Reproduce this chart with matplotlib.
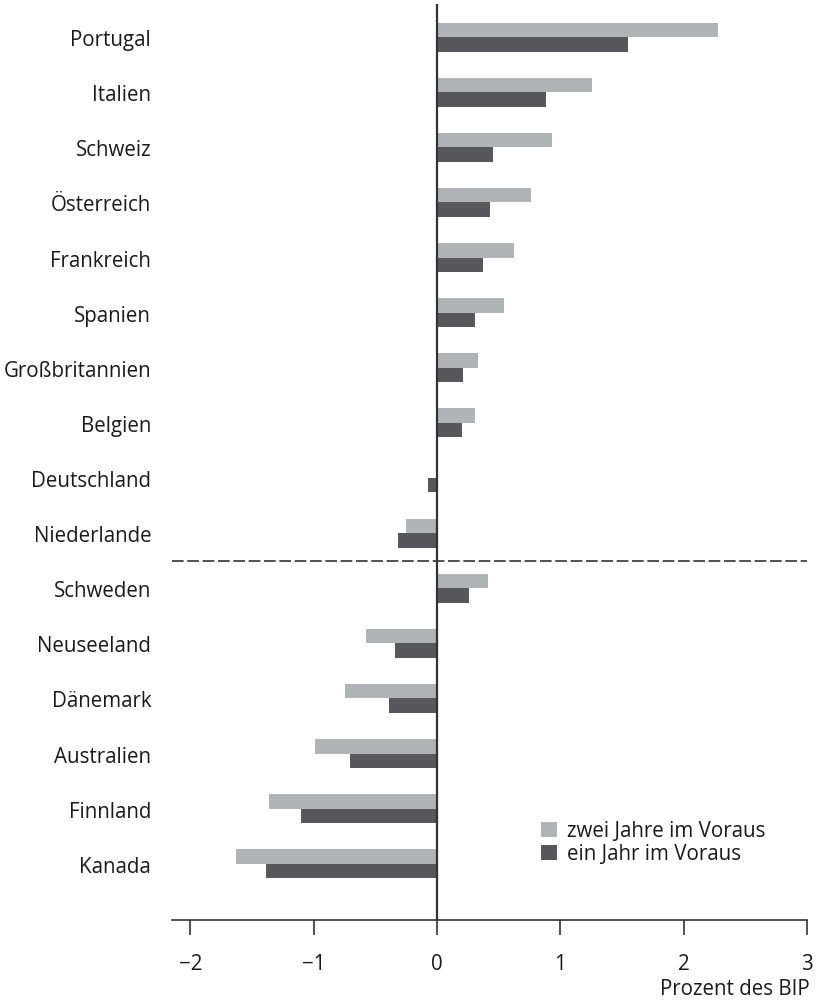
import matplotlib.pyplot as plt
import numpy as np

plt.rcParams['font.family'] = ['Open Sans', 'DejaVu Sans']

# Daten (Prozent des BIP)
laender = ['Portugal', 'Italien', 'Schweiz', 'Österreich', 'Frankreich', 'Spanien',
           'Großbritannien', 'Belgien', 'Deutschland', 'Niederlande', 'Schweden',
           'Neuseeland', 'Dänemark', 'Australien', 'Finnland', 'Kanada']
zwei_jahre = [2.28, 1.26, 0.93, 0.76, 0.62, 0.54, 0.33, 0.31, 0.0, -0.25, 0.41,
              -0.58, -0.75, -0.99, -1.36, -1.63]
ein_jahr = [1.55, 0.88, 0.45, 0.43, 0.37, 0.31, 0.21, 0.20, -0.07, -0.32, 0.26,
            -0.34, -0.39, -0.71, -1.10, -1.39]
x_ticks = [-2, -1, 0, 1, 2, 3]
x_ticklabels = ['\u22122', '\u22121', '0', '1', '2', '3']

hell = '#b2b3b5'
dunkel = '#58585a'
textfarbe = '#1a1a1a'
fs = 14.8

fig = plt.figure(figsize=(8.17, 10.04), dpi=100)
ax = fig.add_axes([172 / 817, 1 - 921 / 1004, (807 - 172) / 817, (921 - 5) / 1004])

y = np.arange(len(laender))
h = 0.263
ax.barh(y - h / 2, zwei_jahre, height=h, color=hell, label='zwei Jahre im Voraus')
ax.barh(y + h / 2, ein_jahr, height=h, color=dunkel, label='ein Jahr im Voraus')

ax.axvline(0, color='#333333', linewidth=1.6, zorder=3)
ax.axhline(9.5, color='#333333', linewidth=1.2, dashes=(7, 2.2), zorder=3)

ax.set_xlim(-2.15, 3.0)
ax.set_ylim(16.02, -0.6)

ax.set_yticks(y)
ax.set_yticklabels(laender, fontsize=fs, color=textfarbe)
ax.tick_params(axis='y', length=0, pad=15)

ax.set_xticks(x_ticks)
ax.set_xticklabels(x_ticklabels, fontsize=fs, color=textfarbe)
ax.tick_params(axis='x', direction='out', length=11, width=1.2, color='#333333', pad=13)

for s in ['top', 'right', 'left']:
    ax.spines[s].set_visible(False)
ax.spines['bottom'].set_color('#333333')
ax.spines['bottom'].set_linewidth(1.2)

ax.legend(loc='upper left', bbox_to_anchor=(531 / 817, 1 - 811 / 1004),
          bbox_transform=fig.transFigure, frameon=False, fontsize=fs,
          handlelength=0.75, handleheight=0.75, handletextpad=0.5,
          labelspacing=0.1, borderpad=0, labelcolor=textfarbe)

fig.text(810 / 817, 1 - 990 / 1004, 'Prozent des BIP', ha='right', va='center',
         fontsize=fs, color=textfarbe)

fig.savefig('out.png', dpi=100)
